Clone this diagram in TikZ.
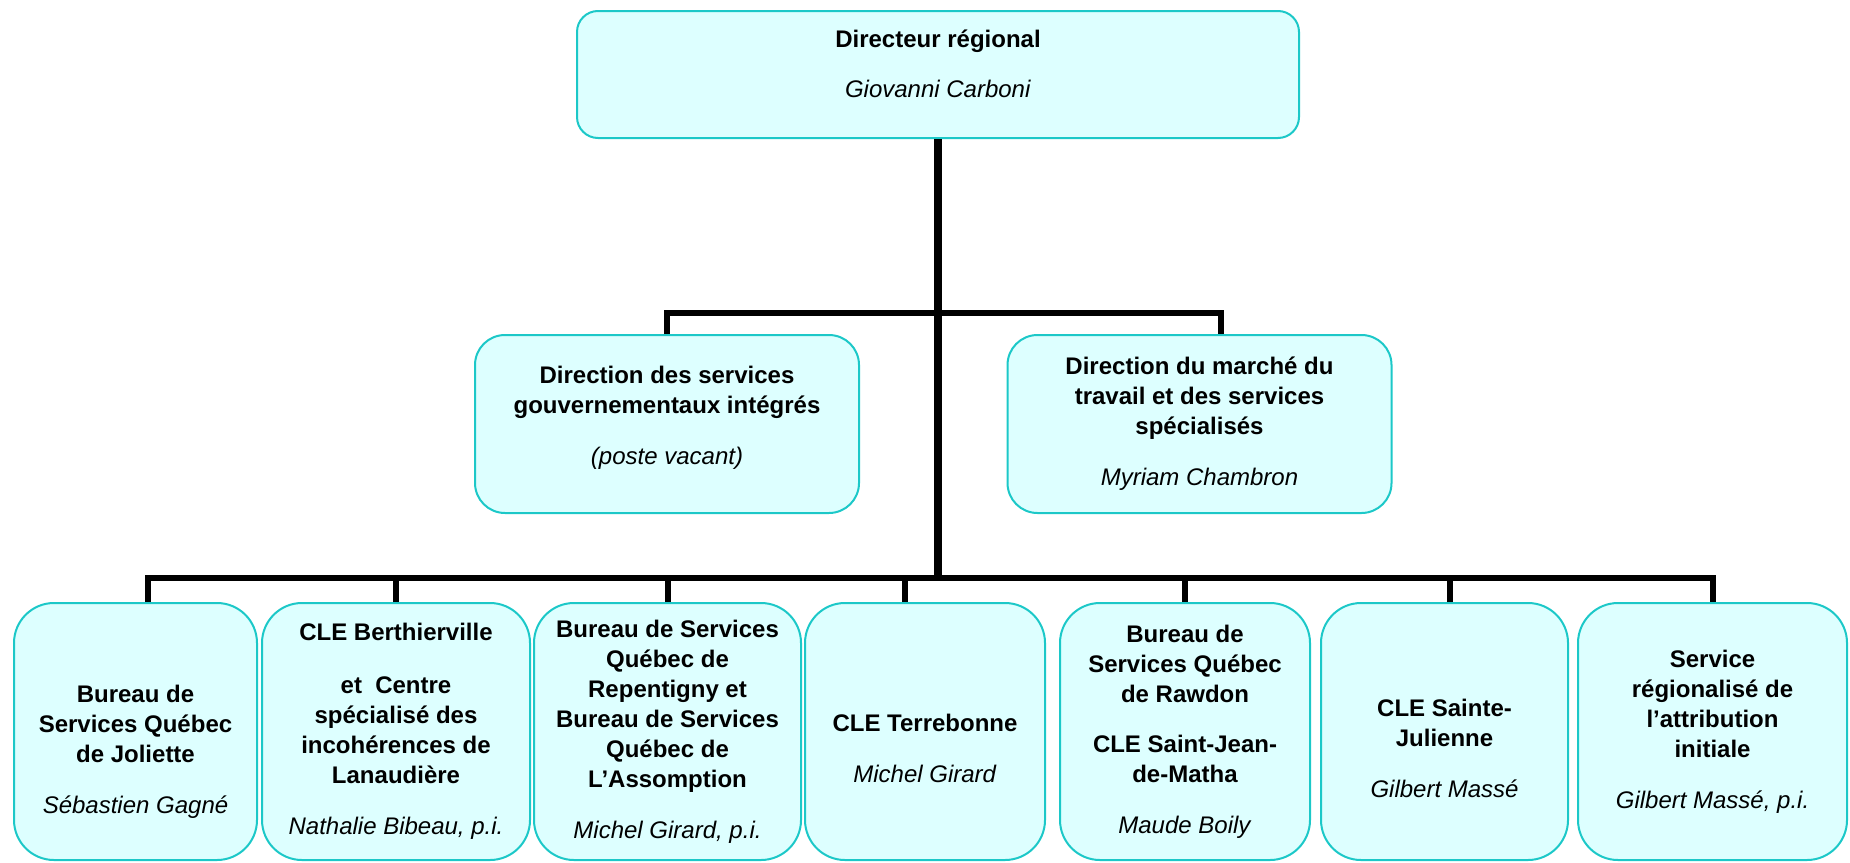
\documentclass[tikz,border=0pt]{standalone}
\usepackage{fontspec}
\setmainfont{Liberation Sans}
\usepackage{xcolor}
\usetikzlibrary{positioning}

\definecolor{boxfill}{HTML}{DDFFFF}
\definecolor{boxline}{HTML}{1CC8C8}

\begin{document}
\begin{tikzpicture}[
    x=0.5pt, y=-0.5pt,
    unit/.style={draw=boxline, line width=1pt, fill=boxfill, align=center, font=\fontsize{12}{15}\selectfont, inner sep=0pt},
    chief/.style={unit, minimum width=361pt, minimum height=63.5pt, rounded corners=10.5pt},
    dept/.style={unit, minimum width=192pt, minimum height=89pt, rounded corners=15pt},
    office/.style={unit, minimum height=128.5pt, rounded corners=20pt},
    link/.style={line width=3pt},
    trunk/.style={line width=4pt}
]
\useasboundingbox (0,0) rectangle (1850,862);

% direction
\node[chief] (dr) at (938,74.5) {\textbf{Directeur régional}\\[10pt]\textit{Giovanni Carboni}\\[-4pt]~};

% directions
\node[dept] (dsgi) at (667,424) {\textbf{Direction des services}\\\textbf{gouvernementaux intégrés}\\[10.5pt]\textit{(poste vacant)}\\[-6pt]~};
\node[dept] (dmt) at (1199.5,424) {\textbf{Direction du marché du}\\\textbf{travail et des services}\\\textbf{spécialisés}\\[10.5pt]\textit{Myriam Chambron}};

% bureaux et CLE
\node[office, minimum width=121.5pt] (b1) at (135.5,731.5) {~\\[14pt]\textbf{Bureau de}\\\textbf{Services Québec}\\\textbf{de Joliette}\\[10.5pt]\textit{Sébastien Gagné}};
\node[office, minimum width=134pt] (b2) at (396,731.5) {\textbf{CLE Berthierville}\\[11.5pt]\textbf{et\ \ Centre}\\\textbf{spécialisé des}\\\textbf{incohérences de}\\\textbf{Lanaudière}\\[10.5pt]\textit{Nathalie Bibeau, p.i.}};
\node[office, minimum width=133.5pt] (b3) at (667.5,731.5) {\textbf{Bureau de Services}\\\textbf{Québec de}\\\textbf{Repentigny et}\\\textbf{Bureau de Services}\\\textbf{Québec de}\\\textbf{L’Assomption}\\[10.5pt]\textit{Michel Girard, p.i.}};
\node[office, minimum width=120pt] (b4) at (925,731.5) {~\\[11pt]\textbf{CLE Terrebonne}\\[10.5pt]\textit{Michel Girard}};
\node[office, minimum width=125pt] (b5) at (1185,731.5) {\textbf{Bureau de}\\\textbf{Services Québec}\\\textbf{de Rawdon}\\[10pt]\textbf{CLE Saint-Jean-}\\\textbf{de-Matha}\\[10.5pt]\textit{Maude Boily}};
\node[office, minimum width=123.5pt] (b6) at (1444.5,731.5) {~\\[11pt]\textbf{CLE Sainte-}\\\textbf{Julienne}\\[10.5pt]\textit{Gilbert Massé}};
\node[office, minimum width=134.5pt] (b7) at (1712.5,731.5) {\textbf{Service}\\\textbf{régionalisé de}\\\textbf{l’attribution}\\\textbf{initiale}\\[10.5pt]\textit{Gilbert Massé, p.i.}};

\coordinate (hub1) at (938,313);
\coordinate (hub2) at (938,578);

% liens
\draw[trunk] (dr.south) -- (hub2);
\draw[link] (dsgi.north) |- (hub1) -| ([xshift=10.5pt]dmt.north);
\draw[link] ([xshift=6.25pt]b1.north) |- (hub2) -| (b7.north);
\foreach \b/\dx in {b2/0, b3/0, b4/-10, b5/0, b6/2.75}
    \draw[link] ([xshift=\dx pt]\b.north) -- ([xshift=\dx pt]\b.north |- hub2);
\end{tikzpicture}
\end{document}
